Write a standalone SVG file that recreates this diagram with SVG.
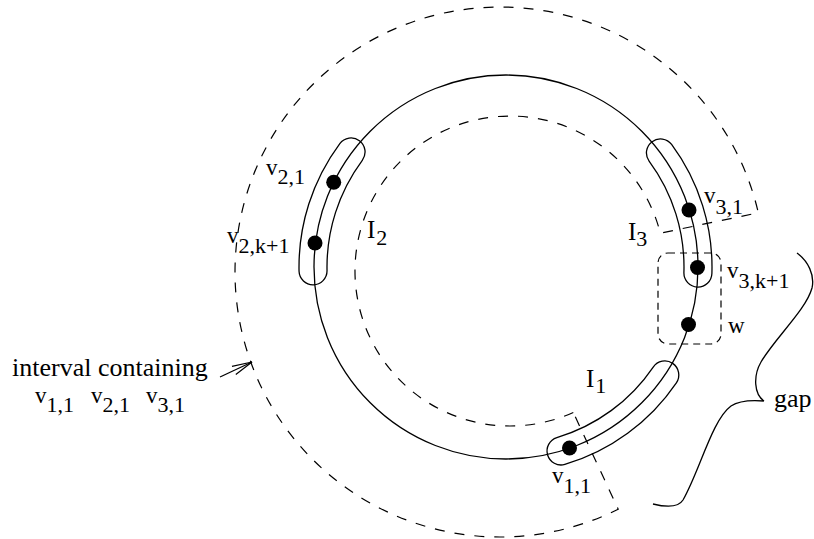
<svg xmlns="http://www.w3.org/2000/svg" width="814" height="539" viewBox="0 0 814 539">
<defs>
<style>
.ln{fill:none;stroke:#000;stroke-width:1.3}
.dl{fill:none;stroke:#000;stroke-width:1.2;stroke-dasharray:10 10}
.dr{fill:none;stroke:#000;stroke-width:1.2;stroke-dasharray:7 5}
.dot{fill:#000}
text{font-family:"Liberation Serif","Times New Roman",serif;font-size:23px;fill:#000}
.s{font-size:22px}
.I{font-size:25px}
.big{font-size:26px}
</style>
<marker id="open" markerUnits="userSpaceOnUse" markerWidth="30" markerHeight="20" refX="0" refY="0" viewBox="-22 -10 24 20" orient="auto">
<path d="M-20,-4.5 L0,0 L-20,4.5" fill="none" stroke="#000" stroke-width="1.2"/>
</marker>
</defs>
<rect width="814" height="539" fill="#fff"/>

<g id="interval-region">
<path class="dl" d="M573.3,412.5 A155 155 0 1 1 660.3,233.2 L758.3,212.8 A265 265 0 1 0 618.2,509.2 Z"/>
</g>

<g id="cycle">
<circle class="ln" cx="506" cy="267" r="192"/>
</g>

<g id="I2">
<path class="ln" d="M299.05,271.33 A207 207 0 0 1 339.82,143.58 A14 14 0 0 1 362.3,160.28 A179 179 0 0 0 327.04,270.75 A14 14 0 0 1 299.05,271.33 Z"/>
<text class="I" x="367" y="238">I<tspan class="s" dx="1" dy="7">2</tspan></text>
</g>

<g id="I3">
<path class="ln" d="M671.6,144.47 A206 206 0 0 1 711.9,273.47 A14 14 0 0 1 683.91,272.59 A178 178 0 0 0 649.09,161.12 A14 14 0 0 1 671.6,144.47 Z"/>
<text class="I" x="628" y="240">I<tspan class="s" dy="6">3</tspan></text>
</g>

<g id="I1">
<path class="ln" d="M676.38,382.79 A206 206 0 0 1 564.85,464.41 A14 14 0 0 1 556.85,437.58 A178 178 0 0 0 653.22,367.05 A14 14 0 0 1 676.38,382.79 Z"/>
<text class="I" x="586" y="387">I<tspan class="s" dx="1" dy="6">1</tspan></text>
</g>

<g id="v21">
<circle class="dot" cx="333.7" cy="182.3" r="7.5"/>
<text x="266" y="175">v<tspan class="s" dy="9">2,1</tspan></text>
</g>

<g id="v2k1">
<circle class="dot" cx="315" cy="243" r="7.5"/>
<text x="227" y="243">v<tspan class="s" dy="10">2,k+1</tspan></text>
</g>

<g id="v31">
<circle class="dot" cx="689" cy="210" r="7.5"/>
<text x="704" y="203">v<tspan class="s" dy="11">3,1</tspan></text>
</g>

<g id="v3k1">
<circle class="dot" cx="697.5" cy="267.5" r="7.5"/>
<text x="727" y="278">v<tspan class="s" dy="10">3,k+1</tspan></text>
</g>

<g id="w">
<circle class="dot" cx="688.5" cy="324.5" r="7.5"/>
<text x="728" y="333">w</text>
</g>

<g id="group-v3k1-w">
<rect class="dr" x="658" y="253" width="63" height="91" rx="10" ry="10"/>
</g>

<g id="v11">
<circle class="dot" cx="569.5" cy="448" r="7.5"/>
<text x="552" y="483">v<tspan class="s" dy="10">1,1</tspan></text>
</g>

<g id="gap">
<path class="ln" d="M797,253 C808,261 815,275 812,288 C806,310 775,338 761,362 C753,376 754,394 764,401 M764,401 C752,400 740,400 731,406 C712,420 700,470 683,500 C678,508 665,507 653,504"/>
<text class="big" x="774" y="407">gap</text>
</g>

<g id="label-interval">
<text class="big" x="12" y="376">interval containing</text>
<text x="35" y="403">v<tspan class="s" dy="9">1,1</tspan><tspan x="91" y="403">v</tspan><tspan class="s" dy="9">2,1</tspan><tspan x="146" y="403">v</tspan><tspan class="s" dy="9">3,1</tspan></text>
</g>

<g id="connectors">
<line class="ln" x1="220" y1="377" x2="252" y2="362" stroke-width="1.1" marker-end="url(#open)"/>
</g>
</svg>
